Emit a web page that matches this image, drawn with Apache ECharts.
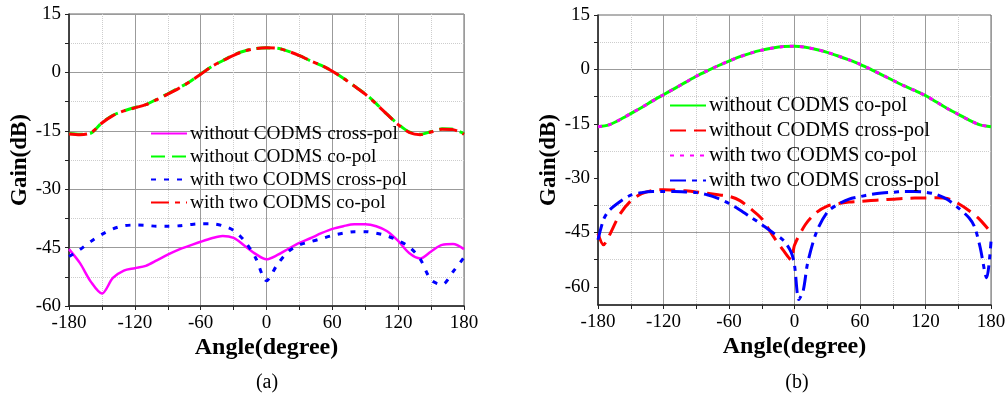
<!DOCTYPE html>
<html>
<head>
<meta charset="utf-8">
<script src="https://cdn.jsdelivr.net/npm/echarts@6/dist/echarts.min.js"></script>
<style>
  html, body { margin: 0; padding: 0; background: #fff; }
  #wrap { position: relative; width: 1006px; height: 398px; }
  #chartA { position: absolute; left: 0; top: 0; width: 500px; height: 398px; }
  #chartB { position: absolute; left: 500px; top: 0; width: 506px; height: 398px; }
</style>
</head>
<body>
<div id="wrap">
  <div id="chartA"></div>
  <div id="chartB"></div>
</div>
<script>
// ---- panel (a) data ----
const anglesA = [-180,-170,-160,-150,-140,-130,-120,-110,-100,-90,-80,-70,-60,-50,-40,-30,-20,-10,0,10,20,30,40,50,60,70,80,90,100,110,120,130,140,150,160,170,180];
const crossWithoutA = [-45.4,-49.0,-53.8,-56.8,-52.8,-50.9,-50.3,-49.7,-48.3,-46.8,-45.5,-44.5,-43.5,-42.6,-42.0,-42.5,-44.5,-46.6,-48.0,-46.9,-45.3,-43.8,-42.6,-41.3,-40.2,-39.5,-39.0,-39.0,-39.5,-40.8,-43.3,-46.4,-47.8,-46.0,-44.3,-44.1,-45.4];
const coWithoutA = [-15.7,-15.9,-15.6,-12.9,-11.0,-9.9,-9.0,-8.3,-6.9,-5.5,-4.0,-2.4,-0.4,1.5,3.0,4.5,5.5,6.1,6.3,6.2,5.4,4.3,3.0,1.8,0.3,-1.5,-3.5,-5.5,-8.0,-10.8,-13.3,-15.3,-15.9,-15.2,-14.5,-14.6,-15.8];
const crossTwoA = [-47.3,-45.5,-43.4,-41.6,-40.2,-39.4,-39.2,-39.3,-39.5,-39.5,-39.4,-39.1,-38.9,-38.9,-39.4,-40.6,-43.3,-47.6,-53.5,-49.3,-46.0,-44.3,-43.5,-42.7,-41.9,-41.3,-40.9,-40.9,-41.3,-42.0,-43.2,-44.8,-47.9,-53.3,-54.5,-51.2,-47.5];
const coTwoA = [-15.8,-16.0,-15.5,-13.0,-11.1,-9.9,-9.1,-8.3,-7.0,-5.6,-4.1,-2.4,-0.5,1.5,3.0,4.4,5.5,6.1,6.3,6.2,5.4,4.3,3.0,1.8,0.3,-1.5,-3.5,-5.6,-8.1,-10.8,-13.4,-15.4,-16.0,-15.3,-14.6,-14.7,-15.9];
const namesA = ['without CODMS cross-pol', 'without CODMS co-pol', 'with two CODMS cross-pol', 'with two CODMS co-pol'];

// ---- panel (b) data ----
const anglesB = [-180,-170,-160,-150,-140,-130,-120,-110,-100,-90,-80,-70,-60,-50,-40,-30,-20,-10,0,10,20,30,40,50,60,70,80,90,100,110,120,130,140,150,160,170,180];
const coWithoutB = [-15.8,-15.3,-13.9,-12.2,-10.5,-8.7,-7.0,-5.3,-3.6,-1.9,-0.4,1.0,2.3,3.5,4.5,5.3,5.9,6.3,6.4,6.1,5.5,4.7,3.7,2.6,1.4,0.0,-1.5,-3.0,-4.5,-5.8,-7.2,-9.0,-10.8,-12.4,-14.0,-15.3,-15.8];
const coTwoB = [-15.8,-15.3,-13.9,-12.2,-10.5,-8.7,-7.0,-5.3,-3.6,-1.9,-0.4,1.0,2.3,3.5,4.5,5.3,5.9,6.3,6.4,6.1,5.5,4.7,3.7,2.6,1.4,0.0,-1.5,-3.0,-4.5,-5.8,-7.2,-9.0,-10.8,-12.4,-14.0,-15.3,-15.8];
const anglesCrossWithoutB = [-180,-175,-170,-160,-150,-140,-130,-120,-110,-100,-90,-80,-70,-60,-50,-40,-30,-20,-10,-3,0,10,20,30,40,50,60,70,80,90,100,110,120,130,140,150,160,170,180];
const crossWithoutB = [-45.3,-48.4,-46.0,-40.0,-36.3,-34.3,-33.4,-33.2,-33.3,-33.5,-33.8,-34.2,-34.6,-35.0,-36.2,-38.5,-41.2,-45.8,-50.0,-52.5,-48.5,-42.8,-39.5,-37.7,-37.0,-36.6,-36.4,-36.2,-36.0,-35.8,-35.6,-35.5,-35.5,-35.4,-35.6,-37.0,-39.0,-41.5,-45.0];
const anglesCrossTwoB = [-180,-175,-170,-160,-150,-140,-130,-120,-110,-100,-90,-80,-70,-60,-50,-40,-30,-20,-10,-3,0,4,8,12,20,30,40,50,60,70,80,90,100,110,120,130,140,150,160,165,170,176,180];
const crossTwoB = [-47.0,-41.5,-39.0,-36.5,-34.7,-34.0,-33.7,-33.7,-33.7,-33.8,-34.0,-34.6,-35.6,-37.0,-38.8,-40.8,-42.8,-45.0,-47.2,-50.5,-54.0,-63.5,-61.0,-53.5,-45.0,-39.4,-37.2,-35.8,-35.1,-34.5,-34.1,-33.9,-33.7,-33.7,-33.9,-34.5,-35.9,-38.2,-41.0,-43.5,-49.0,-57.5,-47.5];
const namesB = ['without CODMS co-pol', 'without CODMS cross-pol', 'with two CODMS co-pol', 'with two CODMS cross-pol'];

// tick labels
const xTicks = [-180, -120, -60, 0, 60, 120, 180];
const yLabelsB = [-60, -45, -30, -15, 0, 15];
const yTicksB = [-60, -52.5, -45, -37.5, -30, -22.5, -15, -7.5, 0, 7.5, 15];

const FONT = '"Liberation Serif", "Times New Roman", serif';
const MAJOR = '#9b9b9b';
const MINOR = '#cdcdcd';

const zip = (xs, ys) => xs.map((x, i) => [x, ys[i]]);

function xAxisCfg() {
  return {
    type: 'value', min: xTicks[0], max: xTicks[xTicks.length - 1], interval: 60,
    name: 'Angle(degree)', nameLocation: 'middle', nameGap: 30, nameMoveOverlap: false,
    nameTextStyle: { fontFamily: FONT, fontWeight: 'bold', fontSize: 24, color: '#000' },
    axisLine: { onZero: false, lineStyle: { color: '#222', width: 1.5 } },
    axisTick: { length: 4, lineStyle: { color: '#222' } },
    minorTick: { show: true, splitNumber: 2, length: 4, lineStyle: { color: '#222' } },
    axisLabel: { fontFamily: FONT, fontSize: 19, color: '#000', margin: 8, hideOverlap: false },
    splitLine: { show: true, lineStyle: { color: MAJOR, width: 1 } },
    minorSplitLine: { show: true, lineStyle: { color: MINOR, width: 1, type: 'dotted' } }
  };
}

function yName() {
  return {
    name: 'Gain(dB)', nameLocation: 'middle', nameRotate: 90, nameGap: 37, nameMoveOverlap: false,
    nameTextStyle: { fontFamily: FONT, fontWeight: 'bold', fontSize: 23, color: '#000' }
  };
}

function lineSeries(name, data, color, type, width) {
  return {
    name, type: 'line', data, showSymbol: false, symbol: 'none', smooth: 0.3,
    lineStyle: { color, width, type, cap: 'butt' },
    itemStyle: { color },
    emphasis: { disabled: true }, animation: false
  };
}

// legend shows only the line sample, no marker dot
function legendCfg(names, left, top, size) {
  return {
    orient: 'vertical', left, top, padding: 0, itemGap: 4,
    itemWidth: 36, itemHeight: 14,
    data: names, selectedMode: false,
    itemStyle: { opacity: 0 },
    textStyle: { fontFamily: FONT, fontSize: size, color: '#000', padding: [0, 0, 0, -2] }
  };
}

// ---- panel (a) ----
const chartA = echarts.init(document.getElementById('chartA'));
chartA.setOption({
  animation: false,
  grid: { left: 69, top: 14, width: 395, height: 292, show: true, borderColor: '#666', borderWidth: 1, outerBoundsMode: 'none', containLabel: false },
  xAxis: xAxisCfg(),
  yAxis: Object.assign({
    type: 'value', min: -60, max: 15, interval: 15,
    axisLine: { show: true, onZero: false, lineStyle: { color: '#222', width: 1.5 } },
    axisTick: { show: true, length: 4, lineStyle: { color: '#222' } },
    minorTick: { show: true, splitNumber: 2, length: 4, lineStyle: { color: '#222' } },
    axisLabel: { fontFamily: FONT, fontSize: 19, color: '#000', margin: 8 },
    splitLine: { show: true, lineStyle: { color: MAJOR, width: 1 } },
    minorSplitLine: { show: true, lineStyle: { color: MINOR, width: 1, type: 'dotted' } }
  }, yName()),
  legend: legendCfg(namesA, 150, 124, 19.3),
  graphic: [{ type: 'text', x: 267, y: 383, style: { text: '(a)', font: '20px "Liberation Serif"', fill: '#000', align: 'center', verticalAlign: 'middle' } }],
  series: [
    lineSeries(namesA[0], zip(anglesA, crossWithoutA), '#ff00ff', 'solid', 2.5),
    lineSeries(namesA[1], zip(anglesA, coWithoutA), '#00ff00', [14, 7], 3),
    lineSeries(namesA[2], zip(anglesA, crossTwoA), '#0000ff', [5, 8], 3),
    lineSeries(namesA[3], zip(anglesA, coTwoA), '#ff0000', [18, 6, 5, 6], 3)
  ]
});

// ---- panel (b) ----
const chartB = echarts.init(document.getElementById('chartB'));
const gridLineB = {
  type: 'value', min: -65, max: 15, interval: 2.5,
  axisLine: { show: false }, axisTick: { show: false }, axisLabel: { show: false }
};
chartB.setOption({
  animation: false,
  grid: { left: 98, top: 15, width: 393, height: 290, show: true, borderColor: '#666', borderWidth: 1, outerBoundsMode: 'none', containLabel: false },
  xAxis: xAxisCfg(),
  yAxis: [
    Object.assign({
      type: 'value', min: -65, max: 15, interval: 2.5,
      axisLine: { show: true, onZero: false, lineStyle: { color: '#222', width: 1.5 } },
      axisTick: { show: true, length: 4, customValues: yTicksB, lineStyle: { color: '#222' } },
      axisLabel: { fontFamily: FONT, fontSize: 19, color: '#000', margin: 8, customValues: yLabelsB },
      splitLine: { show: true, showMinLine: true, lineStyle: { color: ['transparent', 'transparent', MAJOR, 'transparent', 'transparent', 'transparent'], width: 1 } }
    }, yName()),
    Object.assign({}, gridLineB, {
      position: 'left',
      splitLine: { show: true, showMinLine: true, lineStyle: { color: ['transparent', 'transparent', 'transparent', 'transparent', 'transparent', MINOR], width: 1, type: 'dotted' } }
    })
  ],
  legend: legendCfg(namesB, 169, 95, 20.5),
  graphic: [{ type: 'text', x: 297, y: 383, style: { text: '(b)', font: '20px "Liberation Serif"', fill: '#000', align: 'center', verticalAlign: 'middle' } }],
  series: [
    lineSeries(namesB[0], zip(anglesB, coWithoutB), '#00ff00', 'solid', 3),
    lineSeries(namesB[1], zip(anglesCrossWithoutB, crossWithoutB), '#ff0000', [16, 8], 3),
    lineSeries(namesB[2], zip(anglesB, coTwoB), '#ff00ff', [4, 6], 3),
    lineSeries(namesB[3], zip(anglesCrossTwoB, crossTwoB), '#0000ff', [16, 6, 5, 6], 3)
  ]
});
</script>
</body>
</html>
